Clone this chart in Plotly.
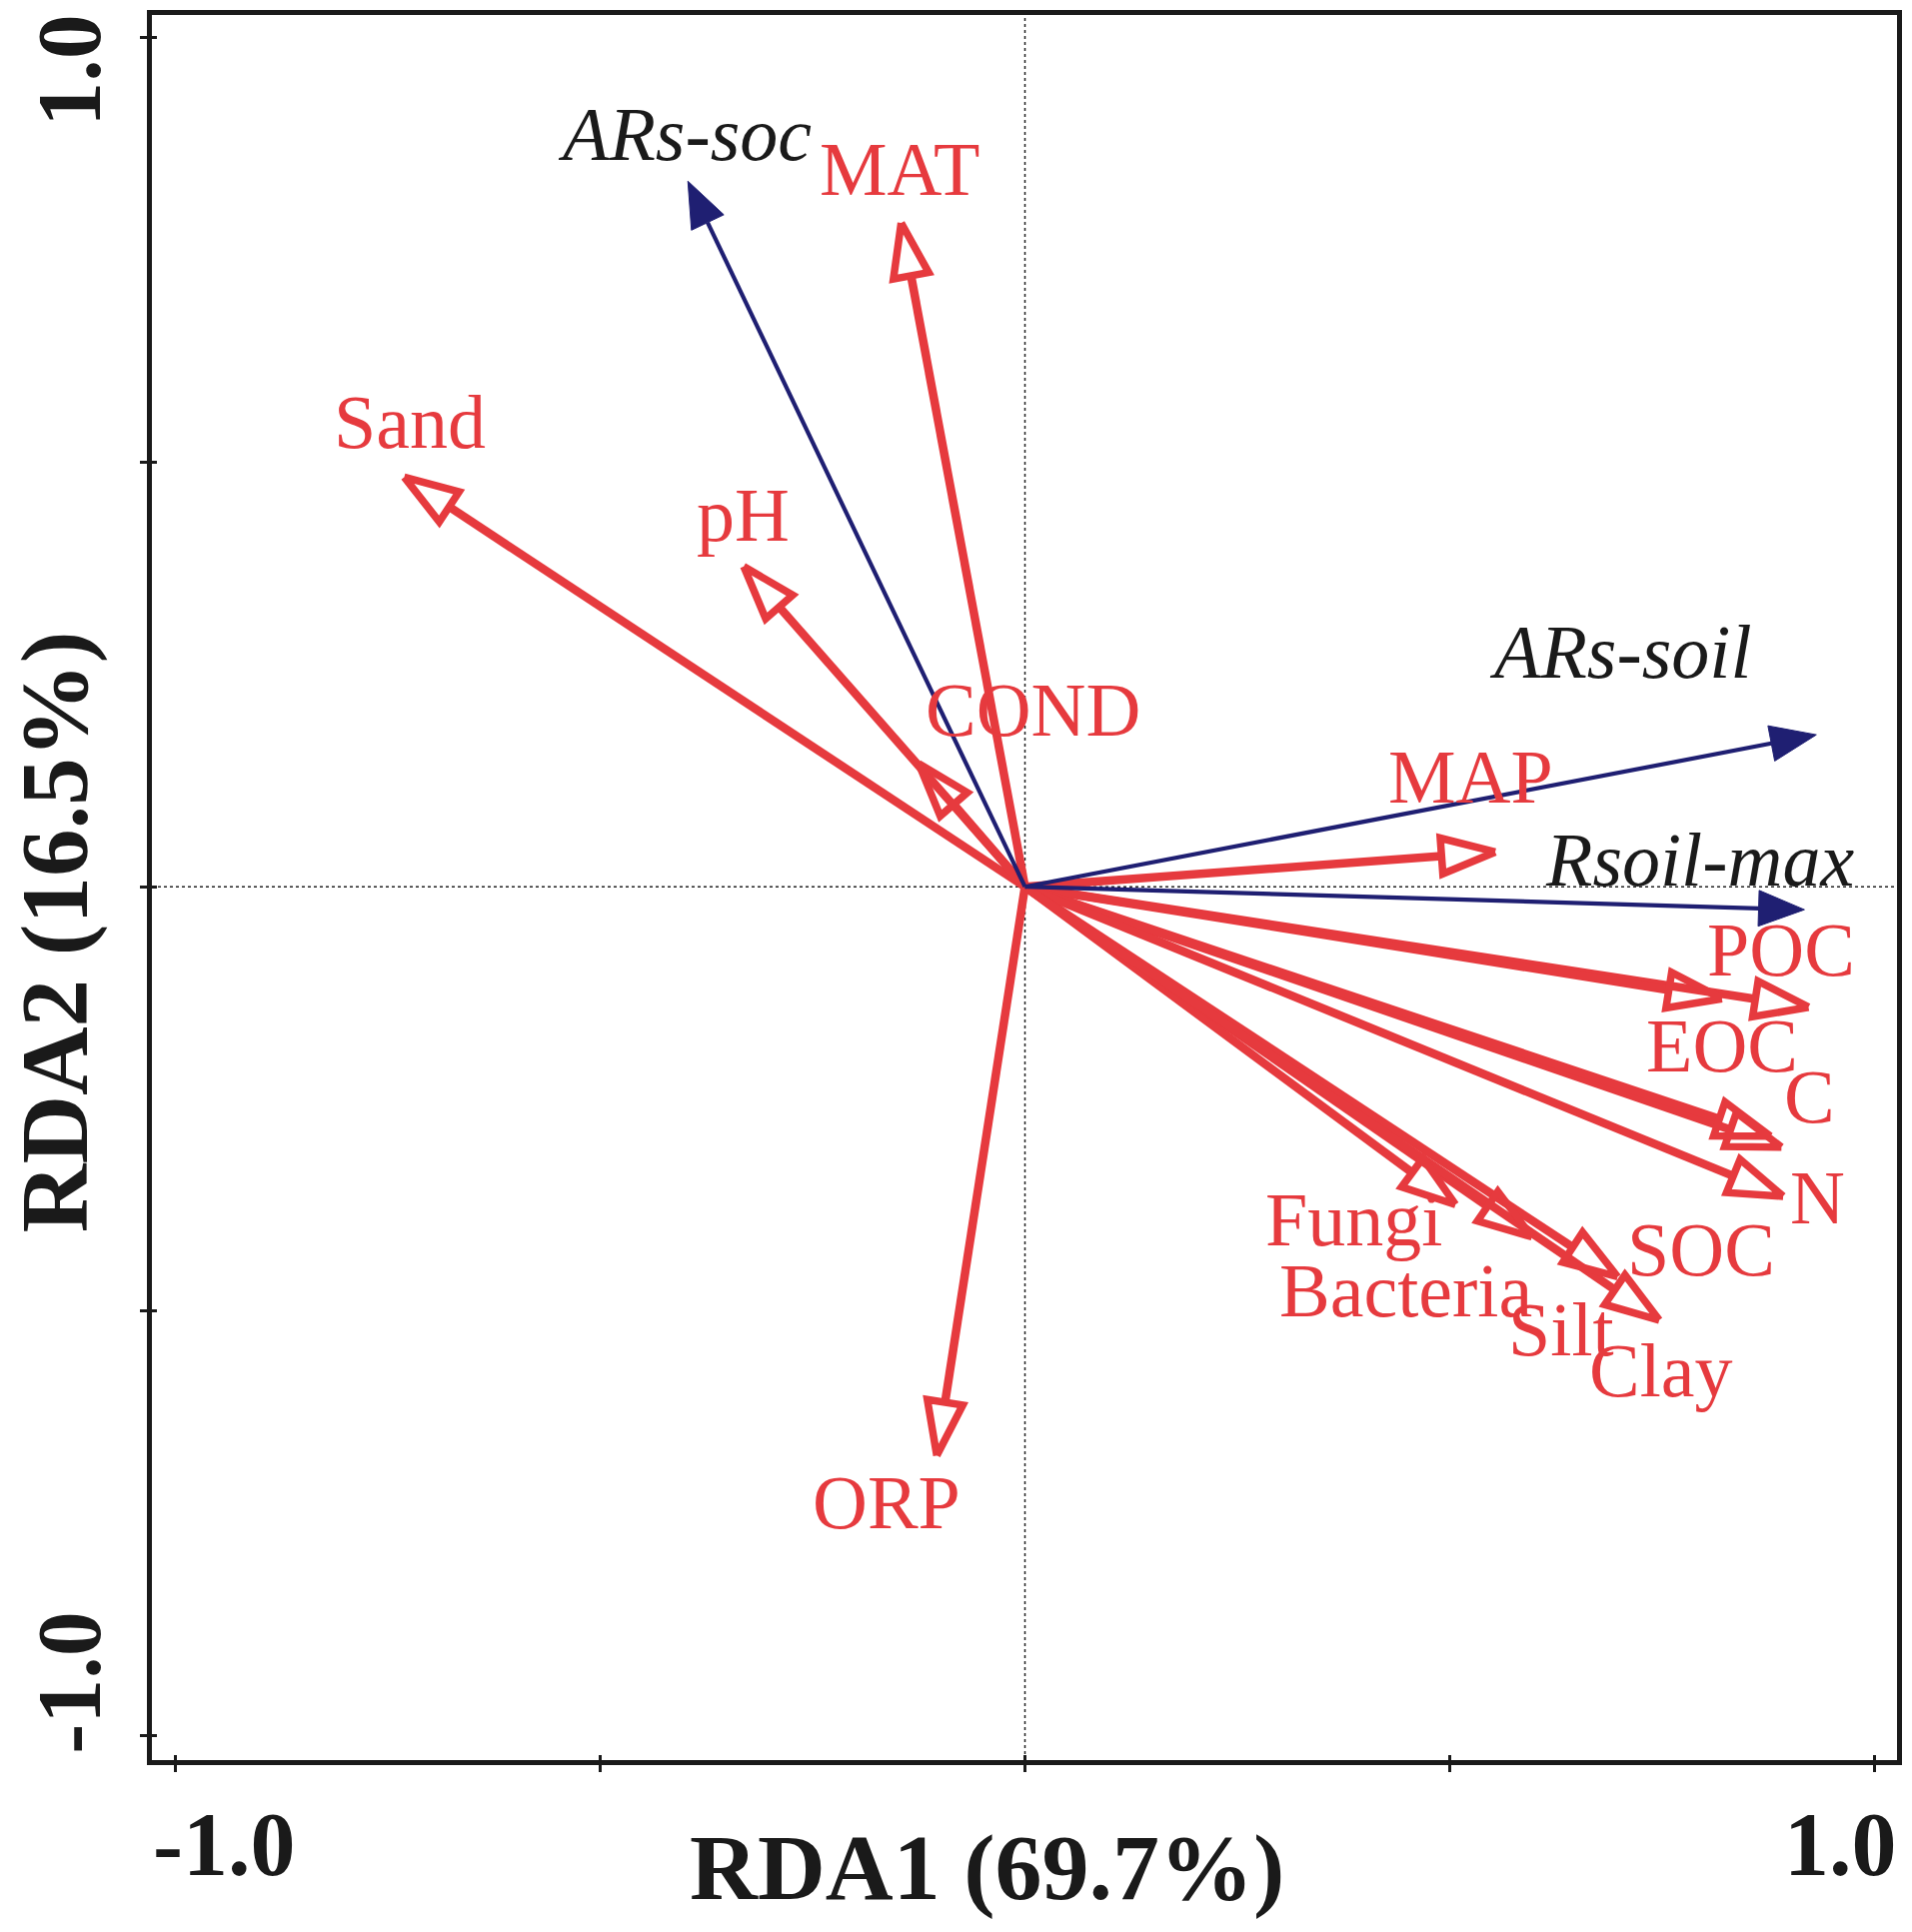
import numpy as np
import plotly.graph_objects as go

# ---------------- data ----------------
env_names = ["MAT", "Sand", "pH", "COND", "MAP", "POC", "EOC", "C", "SOC", "N",
             "Fungi", "Bacteria", "Silt", "Clay", "ORP"]
env_x = [-0.146, -0.732, -0.332, -0.126, 0.555, 0.924, 0.822, 0.892, 0.879, 0.894,
         0.508, 0.598, 0.699, 0.748, -0.104]
env_y = [0.783, 0.483, 0.378, 0.146, 0.041, -0.142, -0.132, -0.307, -0.294, -0.365,
         -0.375, -0.413, -0.460, -0.511, -0.671]
env_label_x = [-0.148, -0.725, -0.332, 0.009, 0.525, 0.891, 0.821, 0.924, 0.796, 0.933,
               0.387, 0.449, 0.632, 0.749, -0.163]
env_label_y = [0.845, 0.547, 0.438, 0.209, 0.130, -0.074, -0.187, -0.247, -0.427, -0.366,
               -0.392, -0.475, -0.521, -0.569, -0.725]

resp_names = ["ARs-soc", "ARs-soil", "Rsoil-max"]
resp_x = [-0.397, 0.932, 0.918]
resp_y = [0.831, 0.179, -0.027]
resp_label_x = [-0.401, 0.701, 0.795]
resp_label_y = [0.887, 0.277, 0.032]

axis_ticks = [-1.0, -0.5, 0.0, 0.5, 1.0]
tick_label_values = [-1.0, 1.0]
tick_label_text = ["-1.0", "1.0"]
x_title = "RDA1 (69.7%)"
y_title = "RDA2 (16.5%)"

# ---------------- layout geometry ----------------
W, H = 1913, 1933
ML, MT = 152, 10
PLOT = 1751
MR = W - ML - PLOT
MB = H - MT - PLOT
PX = 852.0  # pixels per data unit (equal in x and y)
XR = [-1 - (176 - ML) / PX, -1 - (176 - ML) / PX + PLOT / PX]
YR = [1 + (32.7 - MT) / PX - PLOT / PX, 1 + (32.7 - MT) / PX]

RED = "#e63a3e"
BLUE = "#1f1f72"
INK = "#1a1a1a"
FONT = "Liberation Serif"


def head_points(tx, ty, length_px, half_w_px, back_px=0.0):
    d = np.hypot(tx, ty)
    ux, uy = tx / d, ty / d
    tipx, tipy = tx - ux * back_px / PX, ty - uy * back_px / PX
    bx, by = tipx - ux * length_px / PX, tipy - uy * length_px / PX
    px_, py_ = -uy, ux
    lx, ly = bx + px_ * half_w_px / PX, by + py_ * half_w_px / PX
    rx, ry = bx - px_ * half_w_px / PX, by - py_ * half_w_px / PX
    return (tipx, tipy), (lx, ly), (rx, ry), (bx, by)


fig = go.Figure()

# red explanatory arrows (open heads)
shaft_x, shaft_y, hx, hy = [], [], [], []
for x, y in zip(env_x, env_y):
    tip, l, r, b = head_points(x, y, 54, 18, back_px=1)
    shaft_x += [0, b[0], None]
    shaft_y += [0, b[1], None]
    hx += [tip[0], l[0], r[0], tip[0], None]
    hy += [tip[1], l[1], r[1], tip[1], None]
fig.add_trace(go.Scatter(x=shaft_x, y=shaft_y, mode="lines",
                         line=dict(color=RED, width=8.5), hoverinfo="skip", showlegend=False))
fig.add_trace(go.Scatter(x=hx, y=hy, mode="lines",
                         line=dict(color=RED, width=7.5), hoverinfo="skip", showlegend=False))

# blue response arrows (filled heads)
shaft_x, shaft_y, hx, hy = [], [], [], []
for x, y in zip(resp_x, resp_y):
    tip, l, r, b = head_points(x, y, 46, 18)
    shaft_x += [0, b[0], None]
    shaft_y += [0, b[1], None]
    hx += [tip[0], l[0], r[0], tip[0], None]
    hy += [tip[1], l[1], r[1], tip[1], None]
fig.add_trace(go.Scatter(x=shaft_x, y=shaft_y, mode="lines",
                         line=dict(color=BLUE, width=4.2), hoverinfo="skip", showlegend=False))
fig.add_trace(go.Scatter(x=hx, y=hy, mode="lines", fill="toself", fillcolor=BLUE,
                         line=dict(color=BLUE, width=1), hoverinfo="skip", showlegend=False))

# invisible trace to hold the inside-tick overlay axes
fig.add_trace(go.Scatter(x=[0], y=[0], xaxis="x2", yaxis="y2", mode="markers",
                         marker=dict(opacity=0), hoverinfo="skip", showlegend=False))

# labels
for name, lx, ly in zip(env_names, env_label_x, env_label_y):
    fig.add_annotation(x=lx, y=ly, text=name, showarrow=False,
                       xanchor="center", yanchor="middle",
                       font=dict(family=FONT, size=76, color=RED))
for name, lx, ly in zip(resp_names, resp_label_x, resp_label_y):
    fig.add_annotation(x=lx, y=ly, text="<i>" + name + "</i>", showarrow=False,
                       xanchor="center", yanchor="middle",
                       font=dict(family=FONT, size=76, color=INK))

# tick labels (placed inward of the end ticks, as in the original)
x_label_shift = [48, -34]
y_label_shift = [53, -33]
for v, t, s in zip(tick_label_values, tick_label_text, x_label_shift):
    fig.add_annotation(x=v, y=0, xref="x", yref="paper", text="<b>" + t + "</b>",
                       showarrow=False, xanchor="center", yanchor="middle",
                       xshift=s, yshift=-84,
                       font=dict(family=FONT, size=90, color=INK))
for v, t, s in zip(tick_label_values, tick_label_text, y_label_shift):
    fig.add_annotation(x=0, y=v, xref="paper", yref="y", text="<b>" + t + "</b>",
                       showarrow=False, xanchor="center", yanchor="middle",
                       xshift=-82, yshift=s, textangle=-90,
                       font=dict(family=FONT, size=90, color=INK))

# axis titles
fig.add_annotation(x=-0.045, y=0, xref="x", yref="paper", text="<b>" + x_title + "</b>",
                   showarrow=False, xanchor="center", yanchor="middle", yshift=-107,
                   font=dict(family=FONT, size=94, color=INK))
fig.add_annotation(x=0, y=-0.053, xref="paper", yref="y", text="<b>" + y_title + "</b>",
                   showarrow=False, xanchor="center", yanchor="middle", xshift=-97,
                   textangle=-90, font=dict(family=FONT, size=95, color=INK))

# dotted zero lines
fig.add_shape(type="line", x0=0, x1=0, y0=0, y1=1, xref="x", yref="paper",
              line=dict(color="#222222", width=1.5, dash="dot"), layer="below")
fig.add_shape(type="line", x0=0, x1=1, y0=0, y1=0, xref="paper", yref="y",
              line=dict(color="#222222", width=1.5, dash="dot"), layer="below")

axis_common = dict(showgrid=False, zeroline=False, showline=True, linecolor=INK,
                   linewidth=4.7, mirror=True, ticks="outside", ticklen=7, tickwidth=2.5,
                   tickcolor=INK, tickvals=axis_ticks, showticklabels=False)
overlay_common = dict(showgrid=False, zeroline=False, showline=False, ticks="inside",
                      ticklen=5, tickwidth=2.5, tickcolor=INK, tickvals=axis_ticks,
                      showticklabels=False)

fig.update_layout(
    width=W, height=H, autosize=False,
    margin=dict(l=ML, r=MR, t=MT, b=MB, pad=0),
    plot_bgcolor="white", paper_bgcolor="white",
    xaxis=dict(range=XR, **axis_common),
    yaxis=dict(range=YR, **axis_common),
    xaxis2=dict(range=XR, overlaying="x", side="bottom", **overlay_common),
    yaxis2=dict(range=YR, overlaying="y", side="left", **overlay_common),
    showlegend=False,
)

fig.write_html("out.html", config={"displayModeBar": False},
               post_script="document.body.style.margin='0px';")
